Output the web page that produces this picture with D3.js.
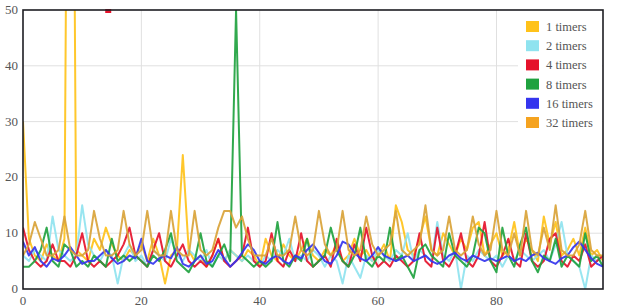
<!DOCTYPE html>
<html>
<head>
<meta charset="utf-8">
<script src="https://cdn.jsdelivr.net/npm/d3@7"></script>
<style>
  body { margin: 0; background: #fff; }
  svg text { font-family: "Liberation Serif", "DejaVu Serif", serif; fill: #555; }
</style>
</head>
<body>
<svg id="chart" width="621" height="308"></svg>
<script>
// series names and colors
const seriesNames = ['1 timers', '2 timers', '4 timers', '8 timers', '16 timers', '32 timers'];
const lineColors = ['#ffc21a', '#8fe3ef', '#e5122b', '#1fa23f', '#3535ee', '#d9a338'];
const swatchColors = ['#ffc21a', '#8fe3ef', '#e5122b', '#1fa23f', '#3535ee', '#f5a320'];

// tick labels
const yTicks = [0, 10, 20, 30, 40, 50];
const xTicks = [0, 20, 40, 60, 80];

// values per run index 0..98
const timers1 = [30, 9, 6, 5, 8, 6, 5, 9, 180, 7, 6, 5, 9, 7, 11, 8, 6, 5, 7, 6,
  8, 5, 9, 6, 1, 6, 7, 24, 7, 5, 6, 4, 6, 9, 5, 7, 6, 5, 7, 6,
  4, 9, 6, 5, 8, 6, 5, 7, 9, 6, 5, 7, 6, 8, 5, 6, 9, 6, 7, 5,
  6, 8, 5, 15, 12, 7, 6, 9, 13, 7, 6, 10, 8, 6, 9, 7, 11, 12, 6, 8,
  10, 6, 7, 12, 6, 9, 7, 5, 13, 8, 12, 6, 7, 9, 6, 11, 6, 7, 5];
const timers2 = [6, 5, 7, 6, 5, 13, 7, 6, 5, 6, 15, 8, 6, 5, 7, 6, 1, 6, 8, 5,
  6, 4, 7, 6, 5, 9, 6, 5, 7, 6, 5, 7, 4, 6, 5, 7, 6, 5, 6, 5,
  4, 6, 5, 7, 6, 9, 5, 6, 5, 7, 6, 4, 6, 5, 1, 6, 4, 2, 6, 5,
  7, 6, 5, 7, 6, 10, 5, 7, 6, 5, 12, 6, 5, 7, 0, 6, 5, 7, 6, 5,
  6, 4, 6, 5, 7, 6, 5, 6, 7, 5, 8, 12, 6, 5, 4, 0, 6, 5, 6];
const timers4 = [11, 7, 5, 4, 5, 8, 5, 5, 4, 6, 10, 5, 4, 5, 4, 5, 6, 8, 11, 6,
  5, 4, 7, 10, 5, 4, 6, 8, 5, 4, 5, 4, 6, 9, 5, 4, 5, 6, 11, 5,
  4, 5, 10, 5, 4, 7, 5, 10, 5, 4, 5, 6, 4, 9, 5, 4, 8, 5, 11, 6,
  4, 5, 4, 6, 5, 4, 5, 10, 5, 4, 11, 5, 4, 6, 10, 5, 4, 6, 12, 5,
  4, 6, 9, 5, 4, 10, 5, 4, 5, 9, 10, 5, 4, 6, 5, 8, 4, 5, 6];
const timers8 = [4, 4, 5, 7, 11, 5, 4, 8, 7, 4, 5, 4, 6, 5, 4, 9, 5, 6, 5, 6,
  5, 4, 6, 5, 7, 10, 5, 4, 3, 5, 10, 5, 4, 6, 8, 5, 50, 6, 5, 4,
  5, 4, 5, 12, 5, 4, 6, 5, 9, 4, 5, 6, 11, 7, 5, 4, 6, 11, 5, 4,
  6, 5, 11, 5, 6, 4, 2, 7, 8, 6, 5, 4, 10, 6, 5, 4, 6, 11, 10, 5,
  3, 11, 6, 4, 8, 11, 5, 3, 6, 5, 9, 4, 6, 5, 4, 10, 5, 6, 4];
const timers16 = [8.5, 6, 7.5, 5, 4, 5.5, 5, 6, 7.5, 6, 4.5, 5, 5, 6, 7, 5.5, 4.5, 5, 6, 5.5,
  9, 5, 4.5, 5.5, 6, 5.5, 7.5, 4.5, 4, 5, 6, 4.5, 5, 7, 5.5, 4, 5, 6.5, 8, 7,
  5, 4.5, 5.5, 6, 5, 4.5, 6, 5.5, 7, 8, 6.5, 5, 4.5, 6, 8.5, 8, 6.5, 5.5, 5, 6,
  7.5, 6, 5.5, 5, 5.5, 6, 5, 5.5, 6, 5, 4.5, 5, 6, 6.5, 5.5, 5, 6, 5.5, 5, 5.5,
  5, 5.5, 6, 5, 5.5, 5, 6, 6.5, 5.5, 5, 4.5, 5.5, 6, 7.5, 8.5, 7, 5.5, 4.5, 4];
const timers32 = [6, 8, 12, 9, 6, 6, 7, 13, 7, 6, 6, 7, 14, 9, 6, 6, 7, 14, 8, 6,
  7, 14, 7, 6, 6, 14, 7, 6, 6, 14, 7, 6, 7, 11, 14, 14, 11, 13, 9, 6,
  6, 6, 9, 6, 6, 7, 13, 7, 6, 7, 14, 8, 6, 7, 14, 7, 6, 7, 13, 8,
  6, 7, 8, 14, 7, 6, 7, 8, 15, 7, 6, 7, 13, 7, 6, 7, 13, 8, 6, 7,
  14, 7, 6, 10, 6, 14, 7, 6, 11, 7, 15, 7, 6, 6, 8, 14, 7, 6, 6];

const allSeries = [timers1, timers2, timers4, timers8, timers16, timers32];

// tiny red mark clipped at the top edge
const clippedMarks = [{ series: 2, x: 14.4, y: 50 }];

const width = 621, height = 308;
const margin = { top: 10, right: 18, bottom: 19, left: 23 };

const svg = d3.select('#chart');

const x = d3.scaleLinear().domain([0, 98]).range([margin.left, width - margin.right]);
const y = d3.scaleLinear().domain([0, 50]).range([height - margin.bottom, margin.top]);

svg.append('defs').append('clipPath').attr('id', 'plot-clip')
    .append('rect')
    .attr('x', margin.left).attr('y', margin.top)
    .attr('width', x.range()[1] - margin.left)
    .attr('height', y.range()[0] - margin.top);

// grid lines
svg.append('g')
    .selectAll('line')
    .data(yTicks.slice(1, -1))
    .enter().append('line')
    .attr('x1', margin.left).attr('x2', x.range()[1])
    .attr('y1', (d) => y(d)).attr('y2', (d) => y(d))
    .attr('stroke', '#e0e0e0').attr('stroke-width', 1);

svg.append('g')
    .selectAll('line')
    .data(xTicks.slice(1))
    .enter().append('line')
    .attr('x1', (d) => x(d)).attr('x2', (d) => x(d))
    .attr('y1', margin.top).attr('y2', y(0))
    .attr('stroke', '#e0e0e0').attr('stroke-width', 1);

// lines
const line = d3.line()
    .x((d, i) => x(i))
    .y((d) => y(d));

const plot = svg.append('g').attr('clip-path', 'url(#plot-clip)');

plot.selectAll('.series')
    .data(allSeries)
    .enter().append('path')
    .attr('class', 'series')
    .attr('d', (d) => line(d))
    .attr('fill', 'none')
    .attr('stroke', (d, i) => lineColors[i])
    .attr('stroke-width', 2)
    .attr('stroke-linejoin', 'round')
    .attr('opacity', 0.92);

svg.selectAll('.clipped')
    .data(clippedMarks)
    .enter().append('rect')
    .attr('x', (d) => x(d.x) - 3)
    .attr('y', (d) => y(d.y) - 1)
    .attr('width', 6).attr('height', 4)
    .attr('fill', (d) => lineColors[d.series]);

// frame
svg.append('rect')
    .attr('x', margin.left).attr('y', margin.top)
    .attr('width', x.range()[1] - margin.left)
    .attr('height', y.range()[0] - margin.top)
    .attr('fill', 'none')
    .attr('stroke', '#1d1d22').attr('stroke-width', 1.6);

// axes labels
svg.append('g')
    .selectAll('text')
    .data(yTicks)
    .enter().append('text')
    .attr('x', 18)
    .attr('y', (d) => y(d) + 4)
    .attr('text-anchor', 'end')
    .attr('font-size', 13)
    .text((d) => d);

svg.append('g')
    .selectAll('text')
    .data(xTicks)
    .enter().append('text')
    .attr('x', (d) => x(d))
    .attr('y', 305)
    .attr('text-anchor', 'middle')
    .attr('font-size', 13)
    .text((d) => d);

// legend
const legend = svg.append('g');
legend.append('rect')
    .attr('x', 518).attr('y', 15)
    .attr('width', 84).attr('height', 118)
    .attr('fill', '#fff');

const rows = legend.selectAll('.row')
    .data(seriesNames)
    .enter().append('g')
    .attr('transform', (d, i) => 'translate(526,' + (27 + i * 19.2) + ')');

rows.append('rect')
    .attr('x', 0).attr('y', -6)
    .attr('width', 13).attr('height', 11)
    .attr('fill', (d, i) => swatchColors[i]);

rows.append('text')
    .attr('x', 20).attr('y', 4)
    .attr('font-size', 12.5)
    .text((d) => d);
</script>
</body>
</html>
